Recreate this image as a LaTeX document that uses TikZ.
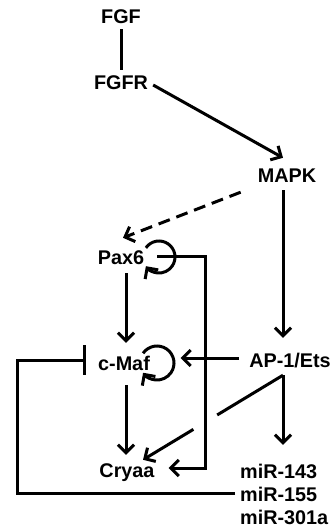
\documentclass[tikz,border=0pt]{standalone}
\usepackage{fontspec}
\setmainfont{Liberation Sans}
\usetikzlibrary{arrows.meta,calc}

\begin{document}
\begin{tikzpicture}[
    x=1pt,y=-1pt,
    gene/.style={font=\fontsize{19.8}{23}\selectfont\bfseries, inner sep=5pt, text height=14pt, text depth=0pt},
    link/.style={draw=black, line width=3pt},
    act/.style={link, -{Straight Barb[length=8pt,width=16pt]}},
    inh/.style={link, -{Bar[width=30pt]}},
    hint/.style={act, dash pattern=on 12pt off 7pt}
  ]
    \useasboundingbox (0,0) rectangle (332,527);

    \node[gene] (fgf) at (121,17) {FGF};
    \node[gene] (fgfr) at (121,82) {FGFR};
    \node[gene] (mapk) at (287,175) {MAPK};
    \node[gene] (pax) at (121,257) {Pax6};
    \node[gene] (cmaf) at (124,363) {c-Maf};
    \node[gene] (ap) at (290,360) {AP-1/Ets};
    \node[gene] (cryaa) at (127,470) {Cryaa};
    \node[gene, anchor=west] (mir1) at (235,471) {miR-143};
    \node[gene, anchor=west] (mir2) at (235,494) {miR-155};
    \node[gene, anchor=west] (mir3) at (235,517) {miR-301a};

    \draw[link] (fgf.south) -- (fgfr.north);
    \draw[act] ($(fgfr.east)+(0,3)$) -- ($(mapk.north)+(-4,-5)$);
    \draw[hint] ($(mapk.south west)+(-12,5)$) -- ($(pax.north)+(2,-7)$);
    \draw[act] ($(mapk.south)+(-4,3)$) -- ($(ap.north)+(-7,-10)$);

    % self regulation loops
    \draw[act] ($(pax)+(38,0)$) ++(-145:16) arc[start angle=-145, end angle=145, radius=16];
    \draw[act] ($(cmaf)+(33,0)$) ++(-145:17) arc[start angle=-145, end angle=145, radius=17];

    \draw[act] ($(pax.south)+(5,4)$) -- ($(cmaf.north)+(2,-8)$);
    \draw[act] ($(cmaf.south)+(2,10)$) -- ($(cryaa.north)+(-1,-3)$);
    \draw[act] ($(pax.east)+(8,-1)$) -- ++(48,0) |- ($(cryaa.east)+(9,-2)$);
    \draw[act] ($(ap.west)+(-5,-2)$) -- ($(cmaf.east)+(25.5,-5)$);

    \coordinate (fork) at ($(ap.south)+(-7,3)$);
    \coordinate (cryin) at ($(cryaa.north)+(16,2)$);
    \draw[act] (fork) -- ($(fork |- mir1.north)+(0,-14)$);
    \draw[link] (fork) -- ($(fork)!0.47!(cryin)$);
    \draw[act] ($(fork)!0.64!(cryin)$) -- (cryin);

    \draw[inh] ($(mir2.west)+(0,-1)$) -- ++(-218,0) |- ($(cmaf.west)+(-7,-3)$);
  \end{tikzpicture}
\end{document}
